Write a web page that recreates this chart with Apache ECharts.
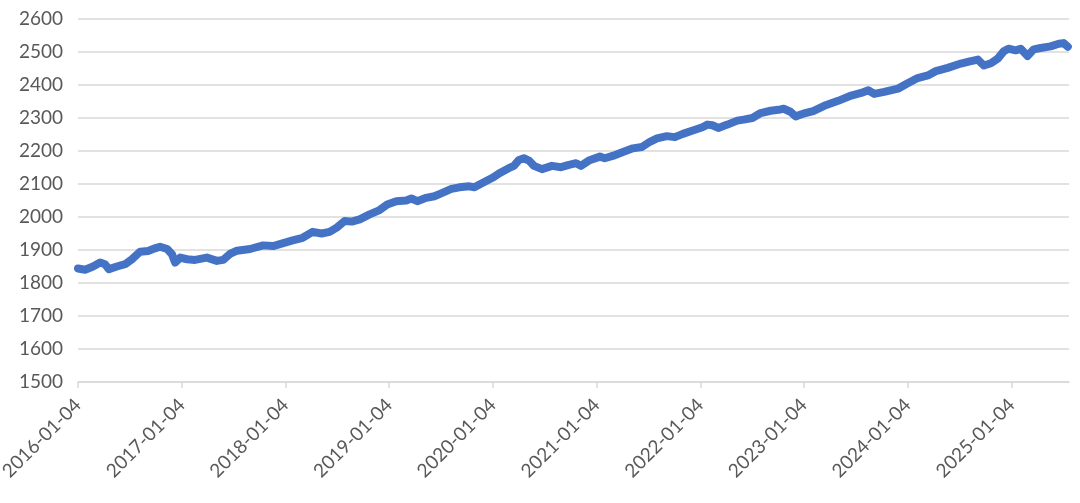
<!DOCTYPE html>
<html>
<head>
<meta charset="utf-8">
<script src="https://cdn.jsdelivr.net/npm/echarts@6/dist/echarts.min.js"></script>
<style>
html,body{margin:0;padding:0;background:#fff;}
#chart{width:1080px;height:503px;}
</style>
</head>
<body>
<div id="chart"></div>
<script>
const dates = [
'2016-01-04','2016-01-29','2016-02-26','2016-03-22','2016-04-08','2016-04-22','2016-05-20','2016-06-18','2016-07-12','2016-08-10','2016-09-07','2016-10-01','2016-10-19','2016-11-13','2016-11-30','2016-12-11','2016-12-29',
'2017-01-22','2017-02-19','2017-04-02','2017-05-07','2017-05-29','2017-06-22','2017-07-17','2017-09-01','2017-10-17','2017-11-21','2017-12-24',
'2018-01-29','2018-03-05','2018-04-09','2018-05-11','2018-06-08','2018-07-03','2018-07-31','2018-08-25','2018-09-22','2018-10-27','2018-12-01','2018-12-28',
'2019-01-29','2019-03-05','2019-03-23','2019-04-13','2019-05-14','2019-06-12','2019-07-10','2019-08-11','2019-09-08','2019-10-13','2019-10-31','2019-11-28',
'2020-01-01','2020-02-01','2020-02-29','2020-03-18','2020-04-05','2020-04-22','2020-05-10','2020-05-28','2020-06-25','2020-07-30','2020-08-31','2020-09-28','2020-10-23','2020-11-09','2020-12-07',
'2021-01-15','2021-02-01','2021-03-01','2021-04-06','2021-05-11','2021-06-12','2021-07-10','2021-08-04','2021-09-08','2021-10-06','2021-11-03','2021-12-08',
'2022-01-11','2022-01-29','2022-02-15','2022-03-08','2022-04-09','2022-05-14','2022-06-05','2022-07-06','2022-08-04','2022-09-08','2022-10-13','2022-10-24','2022-11-17','2022-12-05',
'2023-01-01','2023-02-05','2023-03-16','2023-05-04','2023-06-19','2023-07-24','2023-08-18','2023-09-08','2023-10-13','2023-12-01',
'2024-01-04','2024-02-08','2024-03-15','2024-04-12','2024-05-24','2024-07-09','2024-08-06','2024-09-07','2024-09-28','2024-10-23','2024-11-16','2024-12-07','2024-12-24',
'2025-01-18','2025-02-05','2025-03-01','2025-03-23','2025-04-16','2025-05-21','2025-06-19','2025-07-06','2025-07-21'
];
const values = [
1844,1840,1850,1862,1857,1842,1850,1857,1872,1895,1897,1905,1910,1903,1887,1862,1877,
1872,1870,1877,1867,1870,1888,1898,1903,1914,1912,1920,
1929,1937,1955,1950,1955,1968,1988,1986,1993,2008,2021,2038,
2048,2050,2056,2048,2058,2063,2073,2085,2090,2093,2090,2103,
2118,2135,2148,2155,2173,2178,2171,2155,2145,2155,2151,2158,2163,2155,2171,
2183,2178,2185,2197,2208,2212,2228,2238,2245,2242,2252,2262,
2272,2280,2278,2270,2280,2292,2295,2300,2315,2322,2326,2328,2319,2305,
2313,2321,2337,2352,2368,2376,2384,2373,2379,2389,
2405,2421,2429,2442,2452,2465,2471,2477,2459,2466,2480,2502,2510,
2505,2510,2488,2508,2512,2517,2525,2527,2516
];
const xTickLabels = ['2016-01-04','2017-01-04','2018-01-04','2019-01-04','2020-01-04','2021-01-04','2022-01-04','2023-01-04','2024-01-04','2025-01-04'];
const xMax = '2025-07-25';
const yMin = 1500, yMax = 2600, yStep = 100;

const DAY = 86400000;
function toDay(s){ const p = s.split('-').map(Number); return Math.round(Date.UTC(p[0], p[1]-1, p[2]) / DAY); }
const tickDays = xTickLabels.map(toDay);
const seriesData = dates.map((d,i)=>[toDay(d), values[i]]);

const chart = echarts.init(document.getElementById('chart'), null, {renderer:'canvas'});
const font = 'Lato, "Open Sans", sans-serif';
chart.setOption({
  animation:false,
  backgroundColor:'#ffffff',
  grid:{left:78, right:11, top:19, bottom:121, containLabel:false, outerBoundsMode:'none'},
  xAxis:{
    type:'value',
    min:tickDays[0],
    max:toDay(xMax),
    axisLine:{show:true, lineStyle:{color:'#D9D9D9', width:1.5}},
    axisTick:{show:true, length:6, lineStyle:{color:'#D9D9D9', width:1.5}, customValues:tickDays},
    splitLine:{show:false},
    axisLabel:{
      customValues:tickDays,
      rotate:45, margin:20, color:'#595959', fontSize:19, fontFamily:font,
      formatter:function(v){ const i = tickDays.indexOf(Math.round(v)); return i>=0 ? xTickLabels[i] : ''; }
    }
  },
  yAxis:{
    type:'value', min:yMin, max:yMax, interval:yStep,
    axisLine:{show:false}, axisTick:{show:false},
    splitLine:{lineStyle:{color:'#D9D9D9', width:1.5}},
    axisLabel:{color:'#595959', fontSize:19, fontFamily:font, margin:15, formatter:function(v){ return String(v); }}
  },
  series:[{
    type:'line', data:seriesData, showSymbol:false, symbol:'none', smooth:false,
    lineStyle:{color:'#4472C4', width:8, cap:'round', join:'round'}
  }]
});
</script>
</body>
</html>
